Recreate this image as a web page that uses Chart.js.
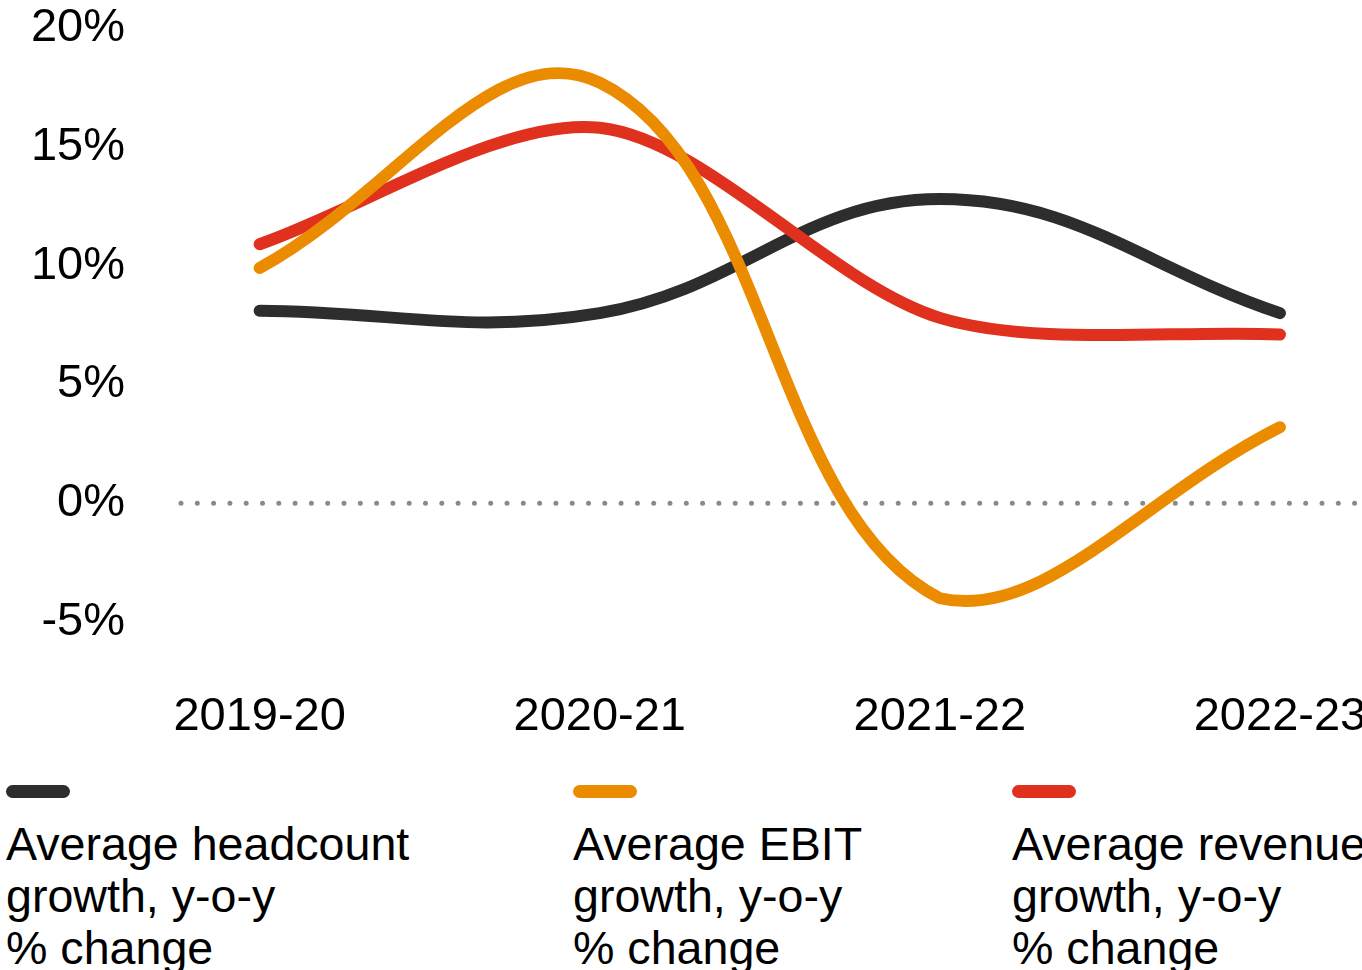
<!DOCTYPE html>
<html>
<head>
<meta charset="utf-8">
<title>Headcount, EBIT and revenue growth</title>
<script src="https://cdn.jsdelivr.net/npm/chart.js@4.4.1/dist/chart.umd.min.js"></script>
<style>
  html, body { margin: 0; padding: 0; background: #fff; }
  body { width: 1362px; height: 970px; overflow: hidden; position: relative; font-family: "Liberation Sans", Arial, sans-serif; }
  #wrap { position: absolute; left: 0; top: 0; width: 1362px; height: 750px; overflow: hidden; }
  .legend-item { position: absolute; top: 785px; color: #000; font-size: 46.6px; line-height: 52px; white-space: nowrap; }
  .legend-item .swatch { width: 64px; height: 13px; border-radius: 7px; margin-bottom: 20px; }
</style>
</head>
<body>
<div id="wrap"><canvas id="growthChart" width="1400" height="750"></canvas></div>
<div id="legend"></div>
<script>
// Data
const seasons = ["2019-20", "2020-21", "2021-22", "2022-23"];
const headcount = [8.1, 8.0, 12.8, 8.0];
const ebit = [9.9, 17.7, -4.0, 3.2];
const revenue = [10.9, 15.8, 7.8, 7.1];
const yTicks = [-5, 0, 5, 10, 15, 20];

const series = [
  { label: "Average headcount\ngrowth, y-o-y\n% change", values: headcount, color: "#2d2d2d", order: 2, tension: 0.4, left: 6 },
  { label: "Average EBIT\ngrowth, y-o-y\n% change", values: ebit, color: "#eb8c00", order: 0, tension: 0.4, left: 573 },
  { label: "Average revenue\ngrowth, y-o-y\n% change", values: revenue, color: "#e0301e", order: 1, tension: 0.3, left: 1012 }
];

const fontFamily = "'Liberation Sans', Arial, sans-serif";

// Garis 0% bertitik
const zeroLine = {
  id: "zeroLine",
  beforeDatasetsDraw(chart) {
    const { ctx, chartArea, scales } = chart;
    const y = scales.y.getPixelForValue(0);
    ctx.save();
    ctx.strokeStyle = "#8a8a8a";
    ctx.lineWidth = 5;
    ctx.lineCap = "round";
    ctx.setLineDash([0, 16.3]);
    ctx.beginPath();
    ctx.moveTo(chartArea.left + 3, y);
    ctx.lineTo(chartArea.right, y);
    ctx.stroke();
    ctx.restore();
  }
};

const canvas = document.getElementById("growthChart");
const ctx = canvas.getContext("2d");

new Chart(ctx, {
  type: "line",
  data: {
    datasets: series.map(s => ({
      label: s.label,
      data: s.values.map((v, i) => ({ x: i, y: v })),
      borderColor: s.color,
      borderWidth: 12,
      borderCapStyle: "round",
      borderJoinStyle: "round",
      tension: s.tension,
      pointRadius: 0,
      order: s.order
    }))
  },
  options: {
    responsive: false,
    animation: false,
    devicePixelRatio: 1,
    layout: { padding: 0 },
    plugins: {
      legend: { display: false },
      tooltip: { enabled: false }
    },
    scales: {
      x: {
        type: "linear",
        min: -0.24,
        max: (1400 - 260) / 340,
        grid: { display: false, drawTicks: false },
        border: { display: false },
        afterBuildTicks: (scale) => { scale.ticks = seasons.map((_, i) => ({ value: i })); },
        afterFit: (scale) => {
          scale.height = 128;
          scale.paddingLeft = 0;
          scale.paddingRight = 0;
        },
        ticks: {
          color: "#000",
          padding: 67,
          maxRotation: 0,
          autoSkip: false,
          font: { family: fontFamily, size: 47 },
          callback: (v) => seasons[v] ?? ""
        }
      },
      y: {
        min: -5,
        max: 20,
        grid: { display: false, drawTicks: false },
        border: { display: false },
        afterBuildTicks: (scale) => { scale.ticks = yTicks.map(v => ({ value: v })); },
        afterFit: (scale) => {
          scale.width = 178;
          scale.paddingTop = 28;
          scale.paddingBottom = 0;
        },
        ticks: {
          color: "#000",
          padding: 53,
          font: { family: fontFamily, size: 47 },
          callback: (v) => v + "%"
        }
      }
    }
  },
  plugins: [zeroLine]
});

// Legenda manual di bawah grafik
const legend = document.getElementById("legend");
series.forEach(s => {
  const item = document.createElement("div");
  item.className = "legend-item";
  item.style.left = s.left + "px";
  const sw = document.createElement("div");
  sw.className = "swatch";
  sw.style.background = s.color;
  item.appendChild(sw);
  s.label.split("\n").forEach(line => {
    const d = document.createElement("div");
    d.textContent = line;
    item.appendChild(d);
  });
  legend.appendChild(item);
});
</script>
</body>
</html>
